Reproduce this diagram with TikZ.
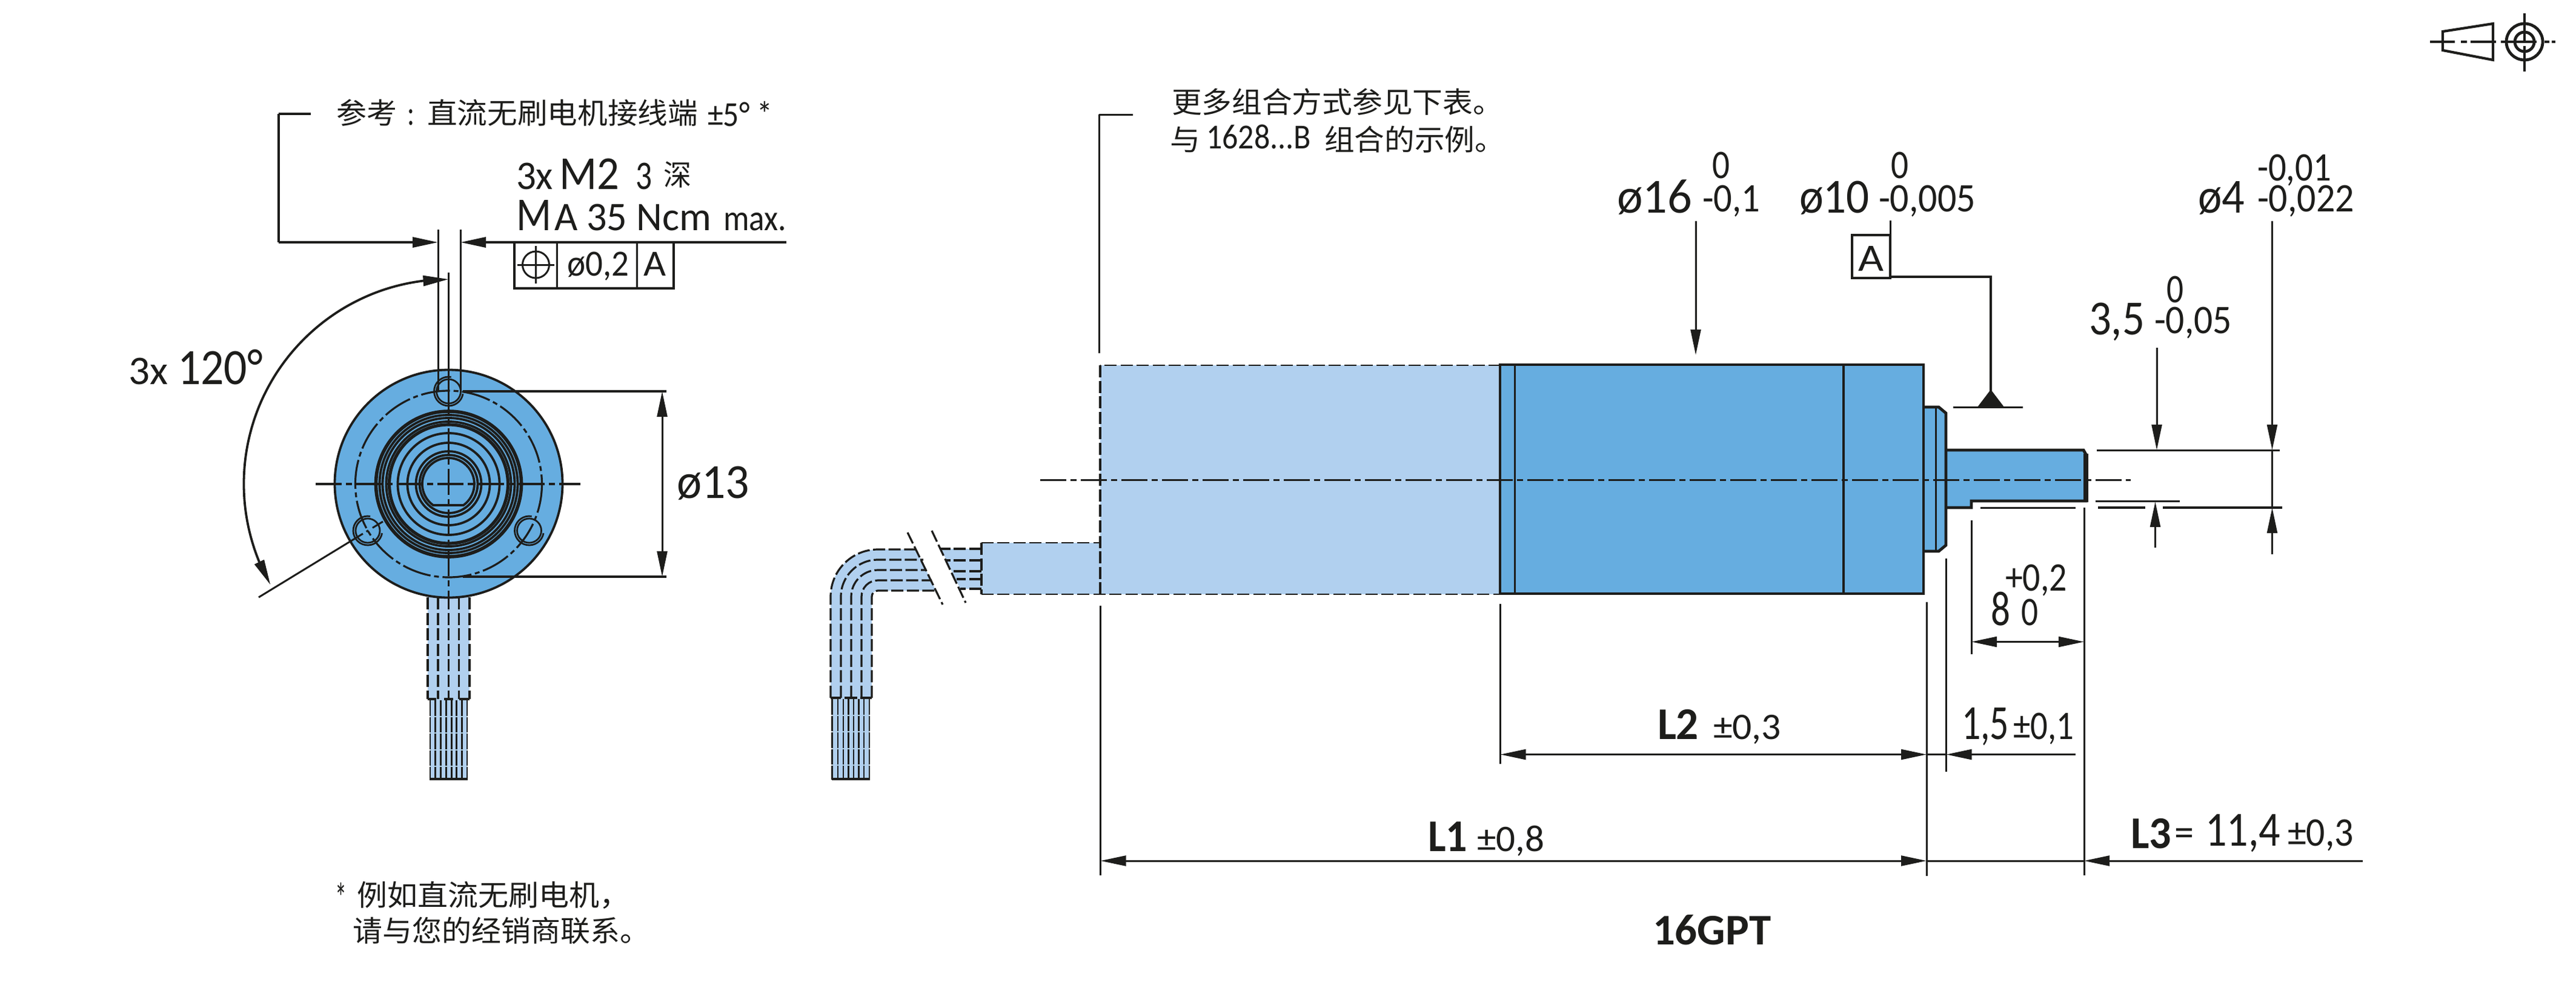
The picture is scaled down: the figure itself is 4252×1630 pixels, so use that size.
\documentclass[tikz,border=0pt]{standalone}
\usepackage{fontspec}
\usepackage{graphicx}
\usetikzlibrary{arrows.meta,bending}
\setmainfont{Carlito}
\newfontfamily\cjk{Noto Sans CJK SC}
\definecolor{ink}{HTML}{1D1D1B}
\definecolor{bluem}{HTML}{66ADE0}
\definecolor{bluel}{HTML}{B1D0EF}
\newsavebox\fitbox
\newcommand{\pxs}[1]{\fontsize{\fpeval{#1*0.25}}{\fpeval{#1*0.3}}\selectfont}
\newcommand{\fitw}[2]{\sbox\fitbox{#2}\scalebox{\fpeval{#1*0.25/(\the\wd\fitbox)}}[1]{\usebox\fitbox}}
% name, x, baseline y, width, font size, content
\newcommand{\tx}[6]{\node[lbl] (#1) at (#2,#3) {\fitw{#4}{\pxs{#5}#6}};}
\newcommand{\txb}[6]{\node[lbl] (#1) at (#2,#3) {\fitw{#4}{\pxs{#5}\bfseries #6}};}
\newcommand{\txc}[6]{\node[lbl] (#1) at (#2,#3) {\fitw{#4}{\pxs{#5}\cjk #6}};}
\tikzset{
  lbl/.style={anchor=base west,inner sep=0pt,outer sep=0pt,text=ink},
  thinl/.style={draw=ink,line width=0.75pt},
  medl/.style={draw=ink,line width=0.95pt},
  heavy/.style={draw=ink,line width=1.2pt},
  centre/.style={draw=ink,line width=0.85pt,dash pattern=on 10.75pt off 1.75pt on 2.5pt off 1.75pt},
  cabled/.style={draw=ink,line width=0.8pt,dash pattern=on 5pt off 1.4pt},
  ghostd/.style={draw=ink,line width=0.65pt,dash pattern=on 5pt off 1.6pt},
  wired/.style={draw=ink,line width=0.62pt,dash pattern=on 6.4pt off 0.5pt},
  holel/.style={draw=ink,line width=0.7pt},
  dimtip/.style={>={Triangle[length=10.5pt,width=4.2pt]}},
}
\begin{document}
\begin{tikzpicture}[x=0.25pt,y=0.25pt,yscale=-1,dimtip]
\useasboundingbox (0,0) rectangle (4252,1630);
% ---------- icon
\draw[draw=ink,line width=1.05pt] (4032,52) -- (4115,39) -- (4115,99) -- (4032,83) -- cycle;
\draw[draw=ink,line width=0.9pt] (4011,69) -- (4052,69) (4062,69) -- (4072,69) (4078,69) -- (4120,69)
  (4128,69) -- (4187,69) (4200,69) -- (4208,69) (4212,69) -- (4218,69);
\draw[draw=ink,line width=1.2pt] (4167,69) circle[radius=30];
\draw[draw=ink,line width=1.2pt] (4167,69) circle[radius=16];
\draw[draw=ink,line width=0.9pt] (4167,22) -- (4167,68) (4167,76) -- (4167,118);
% ---------- front view: cable
\fill[bluel] (706,980) rectangle (775,1154);
\fill[bluel] (710,1154) rectangle (771,1287);
\foreach \xx in {706,723,740.5,757.5,775} \draw[cabled] (\xx,986) -- (\xx,1154);
\draw[medl] (706,1154) -- (720,1154) (733,1154) -- (748,1154) (758,1154) -- (775,1154);
\foreach \xx in {710,718.7,727.7,736.6,745.5,753.6,762.5,771} \draw[wired] (\xx,1156) -- (\xx,1287);
\draw[heavy] (709,1286) -- (772,1286);
% ---------- front view: disc
\fill[bluem] (740.5,798.5) circle[radius=188];
\draw[medl] (740.5,798.5) circle[radius=188];
\draw[draw=ink,line width=0.8pt,dash pattern=on 12pt off 1.5pt on 2pt off 1.5pt] (740.5,799) circle[radius=154];
\draw[draw=ink,line width=1.4pt] (740.5,799) circle[radius=120];
\foreach \rr in {114,109,103} \draw[medl] (740.5,799) circle[radius=\rr];
\draw[draw=ink,line width=1.3pt] (740.5,799) circle[radius=98];
\foreach \rr in {84,68,54,48} \draw[medl] (740.5,799) circle[radius=\rr];
\draw[medl] (715,834) arc[start angle=125.5,end angle=414.5,radius=43] -- cycle;
\foreach \hx/\hy in {740.5/646,607/876,873.5/876}{
  \draw[holel] (\hx,\hy) circle[radius=20];
  \draw[holel] (\hx,\hy) ++(-80:24) arc[start angle=-80,end angle=-350,radius=24];
}
\draw[centre] (521,799) -- (958,799);
\draw[centre] (740.5,640) -- (740.5,987);
% ---------- front view dimensions
\draw[thinl] (723,379) -- (723,646) (760,379) -- (760,646);
\draw[thinl] (740.5,450) -- (740.5,640);
\draw[medl] (460,188) -- (460,400) (460,188) -- (513,188);
\draw[medl,->] (460,400) -- (723,400);
\draw[medl,->] (1298,400) -- (760,400);
\draw[medl] (849,400) rectangle (1112,476);
\draw[thinl] (919,400) -- (919,476) (1051,400) -- (1051,476);
\draw[thinl] (884.5,437) circle[radius=22];
\draw[thinl] (854,437) -- (915,437) (884.5,406) -- (884.5,468);
\draw[medl] (764,646) -- (1100,646) (764,952) -- (1100,952);
\draw[thinl,<->] (1093,646) -- (1093,952);
\draw[medl,<->] (740.5,461) arc[start angle=-90,end angle=-209.5,radius=338];
\draw[thinl] (599,881) -- (427,986);
\draw[draw=ink,line width=0.75pt,dash pattern=on 5pt off 2pt on 1pt off 2pt] (632,861) -- (599,881);
% ---------- side view: ghost motor and cable
\fill[bluel] (1620,896) rectangle (1816,981);
\fill[bluel] (1816,603) rectangle (2477,981);
\fill[bluel] (1553,906) -- (1620,906) -- (1620,972) -- (1585,972) -- cycle;
\fill[bluel] (1371,1152) -- (1371,985) arc[start angle=180,end angle=270,radius=78]
  -- (1512,907) -- (1545,975) -- (1449,975) arc[start angle=270,end angle=180,radius=10] -- (1439,1152) -- cycle;
\fill[bluel] (1373.5,1152) rectangle (1435,1287);
\draw[ghostd] (2477,603) -- (1816,603);
\draw[cabled] (1816,603) -- (1816,981);
\draw[ghostd] (1620,896) -- (1816,896);
\draw[ghostd] (1620,981) -- (2477,981);
\draw[cabled] (1620,896) -- (1620,981);
\foreach \yy/\xa/\xb in {906/1552/1620,925/1560/1620,943/1572/1620,956/1579/1620,972/1585/1620}
  \draw[cabled] (\xb,\yy) -- (\xa,\yy);
\draw[cabled] (1371,1152) -- (1371,985) arc[start angle=180,end angle=270,radius=78] -- (1512,907);
\draw[cabled] (1388,1152) -- (1388,985) arc[start angle=180,end angle=270,radius=61] -- (1524,924);
\draw[cabled] (1405,1152) -- (1405,985) arc[start angle=180,end angle=270,radius=44] -- (1529,941);
\draw[cabled] (1422,1152) -- (1422,985) arc[start angle=180,end angle=270,radius=27] -- (1538,958);
\draw[cabled] (1439,1152) -- (1439,985) arc[start angle=180,end angle=270,radius=10] -- (1545,975);
\draw[medl] (1371,1152) -- (1388,1152) (1394,1152) -- (1415,1152) (1420,1152) -- (1439,1152);
\foreach \xx in {1373.5,1383,1392,1400.6,1409,1417.5,1426,1435} \draw[wired] (\xx,1154) -- (\xx,1287);
\draw[heavy] (1373,1286) -- (1436,1286);
\draw[cabled] (1498,879) -- (1556,998);
\draw[cabled] (1538,876) -- (1594,995);
% ---------- side view: motor
\fill[bluem] (2476,602) rectangle (3175,980);
\fill[bluem] (3175,672) -- (3200,672) -- (3212,682) -- (3212,900) -- (3200,910) -- (3175,910) -- cycle;
\fill[bluem] (3212,743) -- (3439,743) -- (3443,750) -- (3443,827) -- (3254,827) -- (3254,838) -- (3212,838) -- cycle;
\draw[heavy] (2476,602) rectangle (3175,980);
\draw[medl] (2500.5,602) -- (2500.5,980) (3043,602) -- (3043,980);
\draw[heavy] (3175,672) -- (3200,672) -- (3212,682) -- (3212,900) -- (3200,910) -- (3175,910);
\draw[thinl] (3195,672) -- (3195,910);
\draw[heavy] (3212,743) -- (3439,743) -- (3443,750) -- (3443,827) -- (3254,827) -- (3254,838) -- (3212,838);
\draw[draw=ink,line width=2pt] (3443,749) -- (3443,829);
\draw[centre] (1717,792.5) -- (3517,792.5);
% ---------- side view dimensions
\draw[thinl] (1814,189) -- (1814,583) (1814,189) -- (1870,189);
\draw[thinl] (1816.5,1000) -- (1816.5,1445);
\draw[thinl] (2476.5,997) -- (2476.5,1261);
\draw[thinl] (3180,994) -- (3180,1446);
\draw[thinl] (3212.5,922) -- (3212.5,1274);
\draw[thinl] (3254,859) -- (3254,1080);
\draw[thinl] (3440,838) -- (3440,1445);
\draw[thinl,->] (2799,365) -- (2799,586);
% datum
\draw[thinl] (3120,364) -- (3120,388);
\draw[medl] (3057,388) rectangle (3120,459);
\draw[medl] (3120,457) -- (3286,457) -- (3286,650);
\fill[ink] (3286,643) -- (3308,672) -- (3264,672) -- cycle;
\draw[thinl] (3224,672) -- (3339,672);
% shaft dims
\draw[thinl] (3461,743) -- (3763,743);
\draw[thinl] (3459,827) -- (3598,827);
\draw[medl] (3463,838) -- (3541,838) (3570,838) -- (3767,838);
\draw[thinl] (3269,838) -- (3426,838);
\draw[thinl,->] (3560,574) -- (3560,743);
\draw[thinl,->] (3557.5,904) -- (3557.5,828);
\draw[thinl,->] (3750.5,365) -- (3750.5,743);
\draw[thinl] (3750.5,743) -- (3750.5,838);
\draw[thinl,->] (3750.5,915) -- (3750.5,838);
% lengths
\draw[thinl,<->] (3254,1059.5) -- (3440,1059.5);
\draw[thinl,<->] (2476.5,1245.5) -- (3180,1245.5);
\draw[thinl] (3180,1245.5) -- (3212.5,1245.5);
\draw[thinl,->] (3426,1245.5) -- (3212.5,1245.5);
\draw[thinl,<->] (1816.5,1421) -- (3180,1421);
\draw[thinl] (3180,1421) -- (3440,1421);
\draw[thinl,->] (3900,1421) -- (3440,1421);
% ---------- texts, front view
\txc{n1a}{555}{204}{100}{48}{参考}
\tx{n1c}{672}{206}{12}{58}{:}
\txc{n1}{705}{204}{447}{48}{直流无刷电机接线端}
\tx{n1b}{1168}{208}{107}{58}{±5° *}
\tx{t3x}{852}{312}{61}{67}{3x}
\tx{tM2}{923}{312}{99}{78}{M2}
\tx{t3}{1049}{312}{27}{67}{3}
\txc{tdeep}{1095}{306}{46}{48}{深}
\tx{tM}{852}{380}{58}{78}{M}
\tx{tA35}{915}{380}{259}{67}{A 35 Ncm}
\tx{tmax}{1194}{380}{104}{60}{max.}
\tx{t02}{936.5}{455}{102}{61}{ø0,2}
\tx{tAa}{1062}{455}{37}{61}{A}
\tx{t3x2}{212}{634}{65}{67}{3x}
\tx{t120}{293}{634}{141}{84}{120°}
\tx{t13}{1117}{822}{120}{81}{ø13}
\tx{tstar}{553}{1505}{19}{68}{*}
\txc{n2}{589}{1495}{450}{48}{例如直流无刷电机，}
\txc{n3}{582}{1554}{490}{48}{请与您的经销商联系。}
% ---------- texts, side view
\txc{n4}{1934}{186}{547}{48}{更多组合方式参见下表。}
\txc{n5a}{1931}{248}{50}{48}{与}
\tx{n5b}{1991}{245}{173}{58}{1628...B}
\txc{n5c}{2186}{248}{298}{48}{组合的示例。}
\tx{d16}{2669}{351}{124}{81}{ø16}
\tx{d16a}{2826}{294}{29}{67}{0}
\tx{d16b}{2810}{349}{95}{67}{-0,1}
\tx{d10}{2970}{351}{116}{81}{ø10}
\tx{d10a}{3121}{294}{29}{67}{0}
\tx{d10b}{3101}{349}{160}{67}{-0,005}
\tx{tAb}{3067}{447}{42}{64}{A}
\tx{d4}{3628}{351}{77}{81}{ø4}
\tx{d4a}{3726}{298}{122}{67}{-0,01}
\tx{d4b}{3726}{349}{160}{67}{-0,022}
\tx{d35}{3448}{552}{92}{81}{3,5}
\tx{d35a}{3576}{499}{28}{67}{0}
\tx{d35b}{3556}{550}{128}{67}{-0,05}
\tx{d8p}{3310}{975}{102}{67}{+0,2}
\tx{d8}{3286}{1032}{32}{81}{8}
\tx{d80}{3336}{1032}{28}{67}{0}
\tx{d15}{3238}{1220}{78}{81}{1,5}
\tx{d15b}{3323}{1220}{100}{67}{±0,1}
\txb{dL2}{2736}{1220}{68}{75}{L2}
\tx{dL2b}{2828}{1220}{112}{62}{±0,3}
\txb{dL1}{2357}{1405}{65}{75}{L1}
\tx{dL1b}{2438}{1405}{111}{62}{±0,8}
\txb{dL3}{3517}{1400}{67}{75}{L3}
\tx{dEq}{3589}{1396}{32}{67}{=}
\tx{d114}{3640}{1396}{124}{81}{11,4}
\tx{dL3b}{3776}{1396}{109}{67}{±0,3}
\txb{tGPT}{2728}{1559}{195}{72}{16GPT}
\end{tikzpicture}
\end{document}
